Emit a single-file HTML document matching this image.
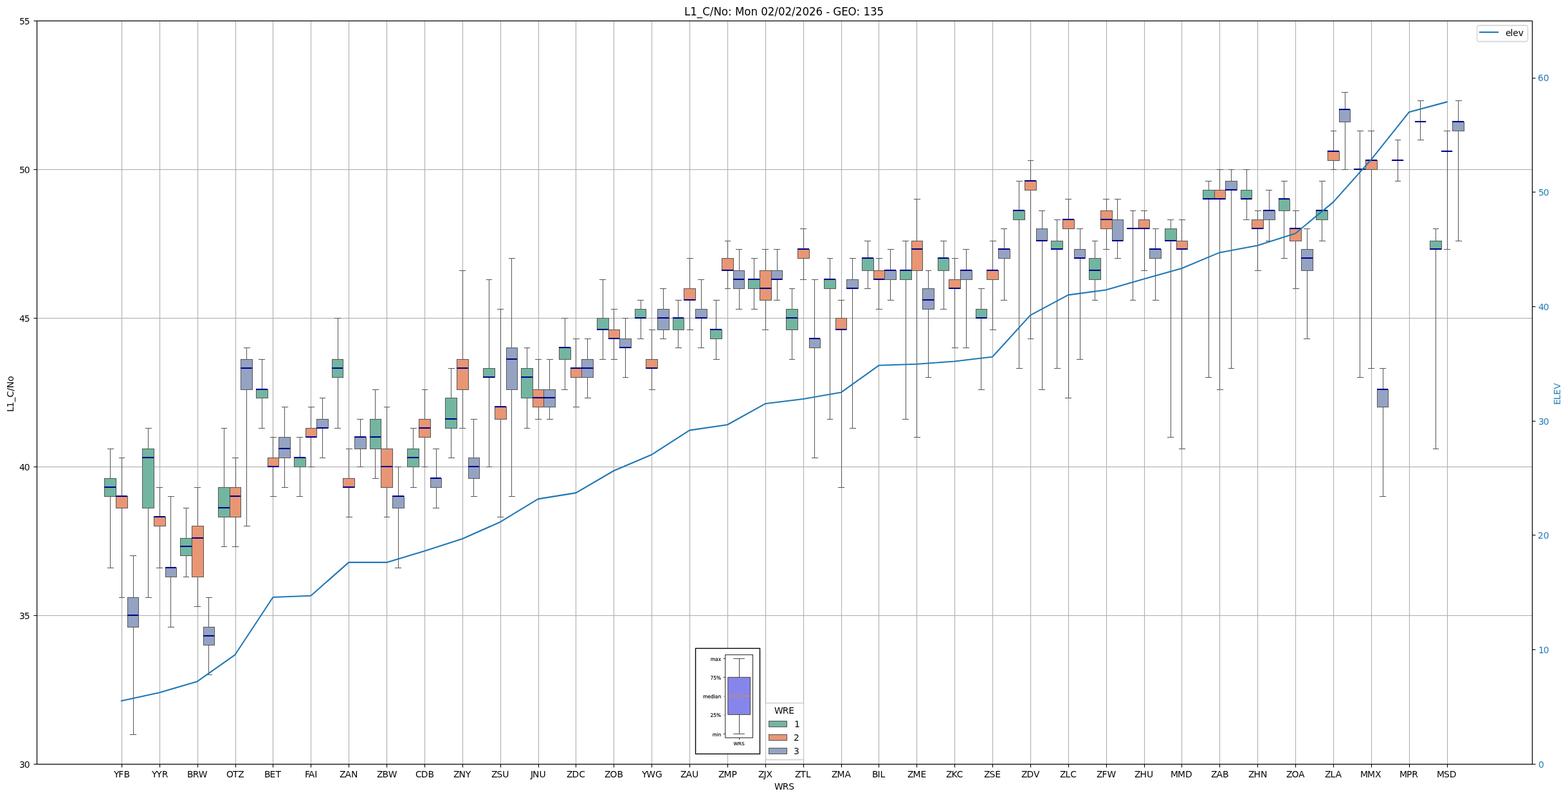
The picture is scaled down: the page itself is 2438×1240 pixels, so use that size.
<!DOCTYPE html>
<html lang="en">
<head>
<meta charset="utf-8">
<title>L1_C/No: Mon 02/02/2026 - GEO: 135</title>
<style>
html,body{margin:0;padding:0;background:#fff;}
body{width:2438px;height:1240px;overflow:hidden;}
svg{display:block;font-family:"DejaVu Sans", "Liberation Sans", sans-serif;font-size:13.889px;fill:#000;}
</style>
</head>
<body>
<svg width="2438" height="1240" viewBox="0 0 2438 1240">
<rect x="0" y="0" width="2438" height="1240" fill="#fff"/>
<path d="M189.5 32.5V1187.5M248.5 32.5V1187.5M307.5 32.5V1187.5M366.5 32.5V1187.5M424.5 32.5V1187.5M483.5 32.5V1187.5M542.5 32.5V1187.5M601.5 32.5V1187.5M660.5 32.5V1187.5M719.5 32.5V1187.5M778.5 32.5V1187.5M837.5 32.5V1187.5M895.5 32.5V1187.5M954.5 32.5V1187.5M1013.5 32.5V1187.5M1072.5 32.5V1187.5M1131.5 32.5V1187.5M1190.5 32.5V1187.5M1249.5 32.5V1187.5M1308.5 32.5V1187.5M1366.5 32.5V1187.5M1425.5 32.5V1187.5M1484.5 32.5V1187.5M1543.5 32.5V1187.5M1602.5 32.5V1187.5M1661.5 32.5V1187.5M1720.5 32.5V1187.5M1779.5 32.5V1187.5M1837.5 32.5V1187.5M1896.5 32.5V1187.5M1955.5 32.5V1187.5M2014.5 32.5V1187.5M2073.5 32.5V1187.5M2132.5 32.5V1187.5M2191.5 32.5V1187.5M2250.5 32.5V1187.5" fill="none" stroke="#b0b0b0" stroke-width="1.13"/>
<path d="M57.5 1187.5H2382.5M57.5 956.5H2382.5M57.5 725.5H2382.5M57.5 494.5H2382.5M57.5 263.5H2382.5M57.5 32.5H2382.5" fill="none" stroke="#b0b0b0" stroke-width="1.11"/>
<path d="M57.5 1187.5H2382.5M57.5 956.5H2382.5M57.5 725.5H2382.5M57.5 494.5H2382.5M57.5 263.5H2382.5M57.5 32.5H2382.5" fill="none" stroke="#b0b0b0" stroke-width="3" stroke-opacity="0.06"/>
<path d="M162.5 743.5H180.5V771.5H162.5ZM221.5 697.5H239.5V789.5H221.5ZM280.5 836.5H298.5V863.5H280.5ZM339.5 757.5H357.5V803.5H339.5ZM398.5 605.5H416.5V618.5H398.5ZM457.5 711.5H475.5V725.5H457.5ZM516.5 558.5H533.5V586.5H516.5ZM575.5 651.5H592.5V697.5H575.5ZM633.5 697.5H651.5V725.5H633.5ZM692.5 618.5H710.5V665.5H692.5ZM751.5 572.5H769.5V586.5H751.5ZM810.5 572.5H828.5V618.5H810.5ZM869.5 540.5H887.5V558.5H869.5ZM928.5 494.5H946.5V512.5H928.5ZM987.5 480.5H1004.5V494.5H987.5ZM1046.5 494.5H1063.5V512.5H1046.5ZM1104.5 512.5H1122.5V526.5H1104.5ZM1163.5 434.5H1181.5V448.5H1163.5ZM1222.5 480.5H1240.5V512.5H1222.5ZM1281.5 434.5H1299.5V448.5H1281.5ZM1340.5 401.5H1358.5V420.5H1340.5ZM1399.5 420.5H1417.5V434.5H1399.5ZM1458.5 401.5H1475.5V420.5H1458.5ZM1517.5 480.5H1534.5V494.5H1517.5ZM1575.5 327.5H1593.5V341.5H1575.5ZM1634.5 374.5H1652.5V387.5H1634.5ZM1693.5 401.5H1711.5V434.5H1693.5ZM1752.5 355.5H1770.5V355.5H1752.5ZM1811.5 355.5H1829.5V374.5H1811.5ZM1870.5 295.5H1888.5V309.5H1870.5ZM1929.5 295.5H1946.5V309.5H1929.5ZM1988.5 309.5H2005.5V327.5H1988.5ZM2046.5 327.5H2064.5V341.5H2046.5ZM2105.5 263.5H2123.5V263.5H2105.5ZM2164.5 249.5H2182.5V249.5H2164.5ZM2223.5 374.5H2241.5V387.5H2223.5Z" fill="#72b6a1" stroke="#595959" stroke-width="1.04" stroke-linejoin="miter"/>
<path d="M162 743.5H181M162 771.5H181M221 697.5H240M221 789.5H240M280 836.5H299M280 863.5H299M339 757.5H358M339 803.5H358M398 605.5H417M398 618.5H417M457 711.5H476M457 725.5H476M516 558.5H534M516 586.5H534M575 651.5H593M575 697.5H593M633 697.5H652M633 725.5H652M692 618.5H711M692 665.5H711M751 572.5H770M751 586.5H770M810 572.5H829M810 618.5H829M869 540.5H888M869 558.5H888M928 494.5H947M928 512.5H947M987 480.5H1005M987 494.5H1005M1046 494.5H1064M1046 512.5H1064M1104 512.5H1123M1104 526.5H1123M1163 434.5H1182M1163 448.5H1182M1222 480.5H1241M1222 512.5H1241M1281 434.5H1300M1281 448.5H1300M1340 401.5H1359M1340 420.5H1359M1399 420.5H1418M1399 434.5H1418M1458 401.5H1476M1458 420.5H1476M1517 480.5H1535M1517 494.5H1535M1575 327.5H1594M1575 341.5H1594M1634 374.5H1653M1634 387.5H1653M1693 401.5H1712M1693 434.5H1712M1752 355.5H1771M1752 355.5H1771M1811 355.5H1830M1811 374.5H1830M1870 295.5H1889M1870 309.5H1889M1929 295.5H1947M1929 309.5H1947M1988 309.5H2006M1988 327.5H2006M2046 327.5H2065M2046 341.5H2065M2105 263.5H2124M2105 263.5H2124M2164 249.5H2183M2164 249.5H2183M2223 374.5H2242M2223 387.5H2242" fill="none" stroke="#595959" stroke-width="3" stroke-opacity="0.024"/>
<path d="M180.5 771.5H198.5V789.5H180.5ZM239.5 803.5H257.5V817.5H239.5ZM298.5 817.5H316.5V896.5H298.5ZM357.5 757.5H374.5V803.5H357.5ZM416.5 711.5H433.5V725.5H416.5ZM475.5 665.5H492.5V679.5H475.5ZM533.5 743.5H551.5V757.5H533.5ZM592.5 697.5H610.5V757.5H592.5ZM651.5 651.5H669.5V679.5H651.5ZM710.5 558.5H728.5V605.5H710.5ZM769.5 632.5H787.5V651.5H769.5ZM828.5 605.5H845.5V632.5H828.5ZM887.5 572.5H904.5V586.5H887.5ZM946.5 512.5H963.5V526.5H946.5ZM1004.5 558.5H1022.5V572.5H1004.5ZM1063.5 448.5H1081.5V466.5H1063.5ZM1122.5 401.5H1140.5V420.5H1122.5ZM1181.5 420.5H1199.5V466.5H1181.5ZM1240.5 387.5H1258.5V401.5H1240.5ZM1299.5 494.5H1316.5V512.5H1299.5ZM1358.5 420.5H1375.5V434.5H1358.5ZM1417.5 374.5H1434.5V420.5H1417.5ZM1475.5 434.5H1493.5V448.5H1475.5ZM1534.5 420.5H1552.5V434.5H1534.5ZM1593.5 281.5H1611.5V295.5H1593.5ZM1652.5 341.5H1670.5V355.5H1652.5ZM1711.5 327.5H1729.5V355.5H1711.5ZM1770.5 341.5H1787.5V355.5H1770.5ZM1829.5 374.5H1846.5V387.5H1829.5ZM1888.5 295.5H1905.5V309.5H1888.5ZM1946.5 341.5H1964.5V355.5H1946.5ZM2005.5 355.5H2023.5V374.5H2005.5ZM2064.5 235.5H2082.5V249.5H2064.5ZM2123.5 249.5H2141.5V263.5H2123.5ZM2241.5 235.5H2258.5V235.5H2241.5Z" fill="#e99675" stroke="#595959" stroke-width="1.04" stroke-linejoin="miter"/>
<path d="M180 771.5H199M180 789.5H199M239 803.5H258M239 817.5H258M298 817.5H317M298 896.5H317M357 757.5H375M357 803.5H375M416 711.5H434M416 725.5H434M475 665.5H493M475 679.5H493M533 743.5H552M533 757.5H552M592 697.5H611M592 757.5H611M651 651.5H670M651 679.5H670M710 558.5H729M710 605.5H729M769 632.5H788M769 651.5H788M828 605.5H846M828 632.5H846M887 572.5H905M887 586.5H905M946 512.5H964M946 526.5H964M1004 558.5H1023M1004 572.5H1023M1063 448.5H1082M1063 466.5H1082M1122 401.5H1141M1122 420.5H1141M1181 420.5H1200M1181 466.5H1200M1240 387.5H1259M1240 401.5H1259M1299 494.5H1317M1299 512.5H1317M1358 420.5H1376M1358 434.5H1376M1417 374.5H1435M1417 420.5H1435M1475 434.5H1494M1475 448.5H1494M1534 420.5H1553M1534 434.5H1553M1593 281.5H1612M1593 295.5H1612M1652 341.5H1671M1652 355.5H1671M1711 327.5H1730M1711 355.5H1730M1770 341.5H1788M1770 355.5H1788M1829 374.5H1847M1829 387.5H1847M1888 295.5H1906M1888 309.5H1906M1946 341.5H1965M1946 355.5H1965M2005 355.5H2024M2005 374.5H2024M2064 235.5H2083M2064 249.5H2083M2123 249.5H2142M2123 263.5H2142M2241 235.5H2259M2241 235.5H2259" fill="none" stroke="#595959" stroke-width="3" stroke-opacity="0.024"/>
<path d="M198.5 928.5H215.5V974.5H198.5ZM257.5 882.5H274.5V896.5H257.5ZM316.5 974.5H333.5V1002.5H316.5ZM374.5 558.5H392.5V605.5H374.5ZM433.5 679.5H451.5V711.5H433.5ZM492.5 651.5H510.5V665.5H492.5ZM551.5 679.5H569.5V697.5H551.5ZM610.5 771.5H628.5V789.5H610.5ZM669.5 743.5H686.5V757.5H669.5ZM728.5 711.5H745.5V743.5H728.5ZM787.5 540.5H804.5V605.5H787.5ZM845.5 605.5H863.5V632.5H845.5ZM904.5 558.5H922.5V586.5H904.5ZM963.5 526.5H981.5V540.5H963.5ZM1022.5 480.5H1040.5V512.5H1022.5ZM1081.5 480.5H1099.5V494.5H1081.5ZM1140.5 420.5H1157.5V448.5H1140.5ZM1199.5 420.5H1216.5V434.5H1199.5ZM1258.5 526.5H1275.5V540.5H1258.5ZM1316.5 434.5H1334.5V448.5H1316.5ZM1375.5 420.5H1393.5V434.5H1375.5ZM1434.5 448.5H1452.5V480.5H1434.5ZM1493.5 420.5H1511.5V434.5H1493.5ZM1552.5 387.5H1570.5V401.5H1552.5ZM1611.5 355.5H1628.5V374.5H1611.5ZM1670.5 387.5H1687.5V401.5H1670.5ZM1729.5 341.5H1746.5V374.5H1729.5ZM1787.5 387.5H1805.5V401.5H1787.5ZM1905.5 281.5H1923.5V295.5H1905.5ZM1964.5 327.5H1982.5V341.5H1964.5ZM2023.5 387.5H2041.5V420.5H2023.5ZM2082.5 170.5H2099.5V189.5H2082.5ZM2141.5 605.5H2158.5V632.5H2141.5ZM2200.5 189.5H2217.5V189.5H2200.5ZM2258.5 189.5H2276.5V203.5H2258.5Z" fill="#95a3c3" stroke="#595959" stroke-width="1.04" stroke-linejoin="miter"/>
<path d="M198 928.5H216M198 974.5H216M257 882.5H275M257 896.5H275M316 974.5H334M316 1002.5H334M374 558.5H393M374 605.5H393M433 679.5H452M433 711.5H452M492 651.5H511M492 665.5H511M551 679.5H570M551 697.5H570M610 771.5H629M610 789.5H629M669 743.5H687M669 757.5H687M728 711.5H746M728 743.5H746M787 540.5H805M787 605.5H805M845 605.5H864M845 632.5H864M904 558.5H923M904 586.5H923M963 526.5H982M963 540.5H982M1022 480.5H1041M1022 512.5H1041M1081 480.5H1100M1081 494.5H1100M1140 420.5H1158M1140 448.5H1158M1199 420.5H1217M1199 434.5H1217M1258 526.5H1276M1258 540.5H1276M1316 434.5H1335M1316 448.5H1335M1375 420.5H1394M1375 434.5H1394M1434 448.5H1453M1434 480.5H1453M1493 420.5H1512M1493 434.5H1512M1552 387.5H1571M1552 401.5H1571M1611 355.5H1629M1611 374.5H1629M1670 387.5H1688M1670 401.5H1688M1729 341.5H1747M1729 374.5H1747M1787 387.5H1806M1787 401.5H1806M1905 281.5H1924M1905 295.5H1924M1964 327.5H1983M1964 341.5H1983M2023 387.5H2042M2023 420.5H2042M2082 170.5H2100M2082 189.5H2100M2141 605.5H2159M2141 632.5H2159M2200 189.5H2218M2200 189.5H2218M2258 189.5H2277M2258 203.5H2277" fill="none" stroke="#595959" stroke-width="3" stroke-opacity="0.024"/>
<path d="M171.5 743.5V697.5M171.5 771.5V882.5M189.5 771.5V711.5M189.5 789.5V928.5M207.5 928.5V863.5M207.5 974.5V1141.5M230.5 697.5V665.5M230.5 789.5V928.5M248.5 803.5V757.5M248.5 817.5V882.5M265.5 882.5V771.5M265.5 896.5V974.5M289.5 836.5V789.5M289.5 863.5V896.5M307.5 817.5V757.5M307.5 896.5V942.5M324.5 974.5V928.5M324.5 1002.5V1048.5M348.5 757.5V665.5M348.5 803.5V849.5M366.5 757.5V711.5M366.5 803.5V849.5M383.5 558.5V540.5M383.5 605.5V817.5M407.5 605.5V558.5M407.5 618.5V665.5M424.5 711.5V679.5M424.5 725.5V771.5M442.5 679.5V632.5M442.5 711.5V757.5M466.5 711.5V679.5M466.5 725.5V771.5M483.5 665.5V632.5M483.5 679.5V725.5M501.5 651.5V618.5M501.5 665.5V711.5M525.5 558.5V494.5M525.5 586.5V665.5M542.5 743.5V697.5M542.5 757.5V803.5M560.5 679.5V651.5M560.5 697.5V725.5M583.5 651.5V605.5M583.5 697.5V743.5M601.5 697.5V632.5M601.5 757.5V803.5M619.5 771.5V725.5M619.5 789.5V882.5M642.5 697.5V665.5M642.5 725.5V757.5M660.5 651.5V605.5M660.5 679.5V725.5M678.5 743.5V697.5M678.5 757.5V789.5M701.5 618.5V572.5M701.5 665.5V711.5M719.5 558.5V420.5M719.5 605.5V665.5M736.5 711.5V651.5M736.5 743.5V771.5M760.5 572.5V434.5M760.5 586.5V725.5M778.5 632.5V480.5M778.5 651.5V803.5M795.5 540.5V401.5M795.5 605.5V771.5M819.5 572.5V540.5M819.5 618.5V665.5M837.5 605.5V558.5M837.5 632.5V651.5M854.5 605.5V558.5M854.5 632.5V651.5M878.5 540.5V494.5M878.5 558.5V605.5M895.5 572.5V526.5M895.5 586.5V632.5M913.5 558.5V526.5M913.5 586.5V618.5M937.5 494.5V434.5M937.5 512.5V558.5M954.5 512.5V480.5M954.5 526.5V558.5M972.5 526.5V494.5M972.5 540.5V586.5M996.5 480.5V466.5M996.5 494.5V526.5M1013.5 558.5V512.5M1013.5 572.5V605.5M1031.5 480.5V448.5M1031.5 512.5V526.5M1054.5 494.5V466.5M1054.5 512.5V540.5M1072.5 448.5V401.5M1072.5 466.5V512.5M1090.5 480.5V434.5M1090.5 494.5V540.5M1113.5 512.5V466.5M1113.5 526.5V558.5M1131.5 401.5V374.5M1131.5 420.5V448.5M1149.5 420.5V387.5M1149.5 448.5V480.5M1172.5 434.5V401.5M1172.5 448.5V480.5M1190.5 420.5V387.5M1190.5 466.5V512.5M1208.5 420.5V387.5M1208.5 434.5V466.5M1231.5 480.5V448.5M1231.5 512.5V558.5M1249.5 387.5V355.5M1249.5 401.5V434.5M1266.5 526.5V434.5M1266.5 540.5V711.5M1290.5 434.5V401.5M1290.5 448.5V651.5M1308.5 494.5V466.5M1308.5 512.5V757.5M1325.5 434.5V401.5M1325.5 448.5V665.5M1349.5 401.5V374.5M1349.5 420.5V448.5M1366.5 420.5V401.5M1366.5 434.5V480.5M1384.5 420.5V387.5M1384.5 434.5V466.5M1408.5 420.5V374.5M1408.5 434.5V651.5M1425.5 374.5V309.5M1425.5 420.5V679.5M1443.5 448.5V420.5M1443.5 480.5V586.5M1467.5 401.5V374.5M1467.5 420.5V480.5M1484.5 434.5V401.5M1484.5 448.5V540.5M1502.5 420.5V387.5M1502.5 434.5V540.5M1525.5 480.5V448.5M1525.5 494.5V605.5M1543.5 420.5V374.5M1543.5 434.5V512.5M1561.5 387.5V355.5M1561.5 401.5V466.5M1584.5 327.5V281.5M1584.5 341.5V572.5M1602.5 281.5V249.5M1602.5 295.5V526.5M1620.5 355.5V327.5M1620.5 374.5V605.5M1643.5 374.5V341.5M1643.5 387.5V572.5M1661.5 341.5V309.5M1661.5 355.5V618.5M1679.5 387.5V355.5M1679.5 401.5V558.5M1702.5 401.5V374.5M1702.5 434.5V466.5M1720.5 327.5V309.5M1720.5 355.5V387.5M1737.5 341.5V309.5M1737.5 374.5V401.5M1761.5 355.5V327.5M1761.5 355.5V466.5M1779.5 341.5V327.5M1779.5 355.5V420.5M1796.5 387.5V355.5M1796.5 401.5V466.5M1820.5 355.5V341.5M1820.5 374.5V679.5M1837.5 374.5V341.5M1837.5 387.5V697.5M1879.5 295.5V281.5M1879.5 309.5V586.5M1896.5 295.5V263.5M1896.5 309.5V605.5M1914.5 281.5V263.5M1914.5 295.5V572.5M1938.5 295.5V263.5M1938.5 309.5V341.5M1955.5 341.5V327.5M1955.5 355.5V420.5M1973.5 327.5V295.5M1973.5 341.5V374.5M1996.5 309.5V281.5M1996.5 327.5V401.5M2014.5 355.5V327.5M2014.5 374.5V448.5M2032.5 387.5V355.5M2032.5 420.5V526.5M2055.5 327.5V281.5M2055.5 341.5V374.5M2073.5 235.5V203.5M2073.5 249.5V263.5M2091.5 170.5V143.5M2091.5 189.5V263.5M2114.5 263.5V203.5M2114.5 263.5V586.5M2132.5 249.5V203.5M2132.5 263.5V572.5M2150.5 605.5V572.5M2150.5 632.5V771.5M2173.5 249.5V217.5M2173.5 249.5V281.5M2208.5 189.5V156.5M2208.5 189.5V217.5M2232.5 374.5V355.5M2232.5 387.5V697.5M2250.5 235.5V203.5M2250.5 235.5V387.5M2267.5 189.5V156.5M2267.5 203.5V374.5" fill="none" stroke="#595959" stroke-width="1.04" stroke-linecap="square"/>
<path d="M167.5 697.5H176.5M167.5 882.5H176.5M185.5 711.5H193.5M185.5 928.5H193.5M202.5 863.5H211.5M202.5 1141.5H211.5M226.5 665.5H235.5M226.5 928.5H235.5M243.5 757.5H252.5M243.5 882.5H252.5M261.5 771.5H270.5M261.5 974.5H270.5M285.5 789.5H293.5M285.5 896.5H293.5M302.5 757.5H311.5M302.5 942.5H311.5M320.5 928.5H329.5M320.5 1048.5H329.5M344.5 665.5H352.5M344.5 849.5H352.5M361.5 711.5H370.5M361.5 849.5H370.5M379.5 540.5H388.5M379.5 817.5H388.5M402.5 558.5H411.5M402.5 665.5H411.5M420.5 679.5H429.5M420.5 771.5H429.5M438.5 632.5H447.5M438.5 757.5H447.5M461.5 679.5H470.5M461.5 771.5H470.5M479.5 632.5H488.5M479.5 725.5H488.5M497.5 618.5H505.5M497.5 711.5H505.5M520.5 494.5H529.5M520.5 665.5H529.5M538.5 697.5H547.5M538.5 803.5H547.5M555.5 651.5H564.5M555.5 725.5H564.5M579.5 605.5H588.5M579.5 743.5H588.5M597.5 632.5H605.5M597.5 803.5H605.5M614.5 725.5H623.5M614.5 882.5H623.5M638.5 665.5H647.5M638.5 757.5H647.5M656.5 605.5H664.5M656.5 725.5H664.5M673.5 697.5H682.5M673.5 789.5H682.5M697.5 572.5H706.5M697.5 711.5H706.5M714.5 420.5H723.5M714.5 665.5H723.5M732.5 651.5H741.5M732.5 771.5H741.5M756.5 434.5H764.5M756.5 725.5H764.5M773.5 480.5H782.5M773.5 803.5H782.5M791.5 401.5H800.5M791.5 771.5H800.5M815.5 540.5H823.5M815.5 665.5H823.5M832.5 558.5H841.5M832.5 651.5H841.5M850.5 558.5H859.5M850.5 651.5H859.5M873.5 494.5H882.5M873.5 605.5H882.5M891.5 526.5H900.5M891.5 632.5H900.5M909.5 526.5H918.5M909.5 618.5H918.5M932.5 434.5H941.5M932.5 558.5H941.5M950.5 480.5H959.5M950.5 558.5H959.5M968.5 494.5H976.5M968.5 586.5H976.5M991.5 466.5H1000.5M991.5 526.5H1000.5M1009.5 512.5H1018.5M1009.5 605.5H1018.5M1026.5 448.5H1035.5M1026.5 526.5H1035.5M1050.5 466.5H1059.5M1050.5 540.5H1059.5M1068.5 401.5H1077.5M1068.5 512.5H1077.5M1085.5 434.5H1094.5M1085.5 540.5H1094.5M1109.5 466.5H1118.5M1109.5 558.5H1118.5M1127.5 374.5H1135.5M1127.5 448.5H1135.5M1144.5 387.5H1153.5M1144.5 480.5H1153.5M1168.5 401.5H1177.5M1168.5 480.5H1177.5M1185.5 387.5H1194.5M1185.5 512.5H1194.5M1203.5 387.5H1212.5M1203.5 466.5H1212.5M1227.5 448.5H1235.5M1227.5 558.5H1235.5M1244.5 355.5H1253.5M1244.5 434.5H1253.5M1262.5 434.5H1271.5M1262.5 711.5H1271.5M1286.5 401.5H1294.5M1286.5 651.5H1294.5M1303.5 466.5H1312.5M1303.5 757.5H1312.5M1321.5 401.5H1330.5M1321.5 665.5H1330.5M1344.5 374.5H1353.5M1344.5 448.5H1353.5M1362.5 401.5H1371.5M1362.5 480.5H1371.5M1380.5 387.5H1389.5M1380.5 466.5H1389.5M1403.5 374.5H1412.5M1403.5 651.5H1412.5M1421.5 309.5H1430.5M1421.5 679.5H1430.5M1439.5 420.5H1447.5M1439.5 586.5H1447.5M1462.5 374.5H1471.5M1462.5 480.5H1471.5M1480.5 401.5H1489.5M1480.5 540.5H1489.5M1497.5 387.5H1506.5M1497.5 540.5H1506.5M1521.5 448.5H1530.5M1521.5 605.5H1530.5M1539.5 374.5H1548.5M1539.5 512.5H1548.5M1556.5 355.5H1565.5M1556.5 466.5H1565.5M1580.5 281.5H1589.5M1580.5 572.5H1589.5M1598.5 249.5H1606.5M1598.5 526.5H1606.5M1615.5 327.5H1624.5M1615.5 605.5H1624.5M1639.5 341.5H1648.5M1639.5 572.5H1648.5M1656.5 309.5H1665.5M1656.5 618.5H1665.5M1674.5 355.5H1683.5M1674.5 558.5H1683.5M1698.5 374.5H1706.5M1698.5 466.5H1706.5M1715.5 309.5H1724.5M1715.5 387.5H1724.5M1733.5 309.5H1742.5M1733.5 401.5H1742.5M1757.5 327.5H1765.5M1757.5 466.5H1765.5M1774.5 327.5H1783.5M1774.5 420.5H1783.5M1792.5 355.5H1801.5M1792.5 466.5H1801.5M1815.5 341.5H1824.5M1815.5 679.5H1824.5M1833.5 341.5H1842.5M1833.5 697.5H1842.5M1874.5 281.5H1883.5M1874.5 586.5H1883.5M1892.5 263.5H1901.5M1892.5 605.5H1901.5M1910.5 263.5H1918.5M1910.5 572.5H1918.5M1933.5 263.5H1942.5M1933.5 341.5H1942.5M1951.5 327.5H1960.5M1951.5 420.5H1960.5M1968.5 295.5H1977.5M1968.5 374.5H1977.5M1992.5 281.5H2001.5M1992.5 401.5H2001.5M2010.5 327.5H2019.5M2010.5 448.5H2019.5M2027.5 355.5H2036.5M2027.5 526.5H2036.5M2051.5 281.5H2060.5M2051.5 374.5H2060.5M2069.5 203.5H2077.5M2069.5 263.5H2077.5M2086.5 143.5H2095.5M2086.5 263.5H2095.5M2110.5 203.5H2119.5M2110.5 586.5H2119.5M2127.5 203.5H2136.5M2127.5 572.5H2136.5M2145.5 572.5H2154.5M2145.5 771.5H2154.5M2169.5 217.5H2177.5M2169.5 281.5H2177.5M2204.5 156.5H2213.5M2204.5 217.5H2213.5M2228.5 355.5H2236.5M2228.5 697.5H2236.5M2245.5 203.5H2254.5M2245.5 387.5H2254.5M2263.5 156.5H2272.5M2263.5 374.5H2272.5" fill="none" stroke="#595959" stroke-width="1.04" stroke-linecap="square"/>
<path d="M167.5 697.5H176.5M167.5 882.5H176.5M185.5 711.5H193.5M185.5 928.5H193.5M202.5 863.5H211.5M202.5 1141.5H211.5M226.5 665.5H235.5M226.5 928.5H235.5M243.5 757.5H252.5M243.5 882.5H252.5M261.5 771.5H270.5M261.5 974.5H270.5M285.5 789.5H293.5M285.5 896.5H293.5M302.5 757.5H311.5M302.5 942.5H311.5M320.5 928.5H329.5M320.5 1048.5H329.5M344.5 665.5H352.5M344.5 849.5H352.5M361.5 711.5H370.5M361.5 849.5H370.5M379.5 540.5H388.5M379.5 817.5H388.5M402.5 558.5H411.5M402.5 665.5H411.5M420.5 679.5H429.5M420.5 771.5H429.5M438.5 632.5H447.5M438.5 757.5H447.5M461.5 679.5H470.5M461.5 771.5H470.5M479.5 632.5H488.5M479.5 725.5H488.5M497.5 618.5H505.5M497.5 711.5H505.5M520.5 494.5H529.5M520.5 665.5H529.5M538.5 697.5H547.5M538.5 803.5H547.5M555.5 651.5H564.5M555.5 725.5H564.5M579.5 605.5H588.5M579.5 743.5H588.5M597.5 632.5H605.5M597.5 803.5H605.5M614.5 725.5H623.5M614.5 882.5H623.5M638.5 665.5H647.5M638.5 757.5H647.5M656.5 605.5H664.5M656.5 725.5H664.5M673.5 697.5H682.5M673.5 789.5H682.5M697.5 572.5H706.5M697.5 711.5H706.5M714.5 420.5H723.5M714.5 665.5H723.5M732.5 651.5H741.5M732.5 771.5H741.5M756.5 434.5H764.5M756.5 725.5H764.5M773.5 480.5H782.5M773.5 803.5H782.5M791.5 401.5H800.5M791.5 771.5H800.5M815.5 540.5H823.5M815.5 665.5H823.5M832.5 558.5H841.5M832.5 651.5H841.5M850.5 558.5H859.5M850.5 651.5H859.5M873.5 494.5H882.5M873.5 605.5H882.5M891.5 526.5H900.5M891.5 632.5H900.5M909.5 526.5H918.5M909.5 618.5H918.5M932.5 434.5H941.5M932.5 558.5H941.5M950.5 480.5H959.5M950.5 558.5H959.5M968.5 494.5H976.5M968.5 586.5H976.5M991.5 466.5H1000.5M991.5 526.5H1000.5M1009.5 512.5H1018.5M1009.5 605.5H1018.5M1026.5 448.5H1035.5M1026.5 526.5H1035.5M1050.5 466.5H1059.5M1050.5 540.5H1059.5M1068.5 401.5H1077.5M1068.5 512.5H1077.5M1085.5 434.5H1094.5M1085.5 540.5H1094.5M1109.5 466.5H1118.5M1109.5 558.5H1118.5M1127.5 374.5H1135.5M1127.5 448.5H1135.5M1144.5 387.5H1153.5M1144.5 480.5H1153.5M1168.5 401.5H1177.5M1168.5 480.5H1177.5M1185.5 387.5H1194.5M1185.5 512.5H1194.5M1203.5 387.5H1212.5M1203.5 466.5H1212.5M1227.5 448.5H1235.5M1227.5 558.5H1235.5M1244.5 355.5H1253.5M1244.5 434.5H1253.5M1262.5 434.5H1271.5M1262.5 711.5H1271.5M1286.5 401.5H1294.5M1286.5 651.5H1294.5M1303.5 466.5H1312.5M1303.5 757.5H1312.5M1321.5 401.5H1330.5M1321.5 665.5H1330.5M1344.5 374.5H1353.5M1344.5 448.5H1353.5M1362.5 401.5H1371.5M1362.5 480.5H1371.5M1380.5 387.5H1389.5M1380.5 466.5H1389.5M1403.5 374.5H1412.5M1403.5 651.5H1412.5M1421.5 309.5H1430.5M1421.5 679.5H1430.5M1439.5 420.5H1447.5M1439.5 586.5H1447.5M1462.5 374.5H1471.5M1462.5 480.5H1471.5M1480.5 401.5H1489.5M1480.5 540.5H1489.5M1497.5 387.5H1506.5M1497.5 540.5H1506.5M1521.5 448.5H1530.5M1521.5 605.5H1530.5M1539.5 374.5H1548.5M1539.5 512.5H1548.5M1556.5 355.5H1565.5M1556.5 466.5H1565.5M1580.5 281.5H1589.5M1580.5 572.5H1589.5M1598.5 249.5H1606.5M1598.5 526.5H1606.5M1615.5 327.5H1624.5M1615.5 605.5H1624.5M1639.5 341.5H1648.5M1639.5 572.5H1648.5M1656.5 309.5H1665.5M1656.5 618.5H1665.5M1674.5 355.5H1683.5M1674.5 558.5H1683.5M1698.5 374.5H1706.5M1698.5 466.5H1706.5M1715.5 309.5H1724.5M1715.5 387.5H1724.5M1733.5 309.5H1742.5M1733.5 401.5H1742.5M1757.5 327.5H1765.5M1757.5 466.5H1765.5M1774.5 327.5H1783.5M1774.5 420.5H1783.5M1792.5 355.5H1801.5M1792.5 466.5H1801.5M1815.5 341.5H1824.5M1815.5 679.5H1824.5M1833.5 341.5H1842.5M1833.5 697.5H1842.5M1874.5 281.5H1883.5M1874.5 586.5H1883.5M1892.5 263.5H1901.5M1892.5 605.5H1901.5M1910.5 263.5H1918.5M1910.5 572.5H1918.5M1933.5 263.5H1942.5M1933.5 341.5H1942.5M1951.5 327.5H1960.5M1951.5 420.5H1960.5M1968.5 295.5H1977.5M1968.5 374.5H1977.5M1992.5 281.5H2001.5M1992.5 401.5H2001.5M2010.5 327.5H2019.5M2010.5 448.5H2019.5M2027.5 355.5H2036.5M2027.5 526.5H2036.5M2051.5 281.5H2060.5M2051.5 374.5H2060.5M2069.5 203.5H2077.5M2069.5 263.5H2077.5M2086.5 143.5H2095.5M2086.5 263.5H2095.5M2110.5 203.5H2119.5M2110.5 586.5H2119.5M2127.5 203.5H2136.5M2127.5 572.5H2136.5M2145.5 572.5H2154.5M2145.5 771.5H2154.5M2169.5 217.5H2177.5M2169.5 281.5H2177.5M2204.5 156.5H2213.5M2204.5 217.5H2213.5M2228.5 355.5H2236.5M2228.5 697.5H2236.5M2245.5 203.5H2254.5M2245.5 387.5H2254.5M2263.5 156.5H2272.5M2263.5 374.5H2272.5" fill="none" stroke="#595959" stroke-width="3" stroke-opacity="0.024" stroke-linecap="square"/>
<path d="M162 757H180M180 771H198M198 956H215M221 711H239M239 803H257M257 882H274M280 849H298M298 836H316M316 988H333M339 789H357M357 771H374M374 572H392M398 605H416M416 725H433M433 697H451M457 711H475M475 679H492M492 665H510M516 572H533M533 757H551M551 679H569M575 679H592M592 725H610M610 771H628M633 711H651M651 665H669M669 743H686M692 651H710M710 572H728M728 725H745M751 586H769M769 632H787M787 558H804M810 586H828M828 618H845M845 618H863M869 540H887M887 572H904M904 572H922M928 512H946M946 526H963M963 540H981M987 494H1004M1004 572H1022M1022 494H1040M1046 494H1063M1063 466H1081M1081 494H1099M1104 512H1122M1122 420H1140M1140 434H1157M1163 434H1181M1181 448H1199M1199 434H1216M1222 494H1240M1240 387H1258M1258 526H1275M1281 434H1299M1299 512H1316M1316 448H1334M1340 401H1358M1358 434H1375M1375 420H1393M1399 420H1417M1417 387H1434M1434 466H1452M1458 401H1475M1475 448H1493M1493 420H1511M1517 494H1534M1534 420H1552M1552 387H1570M1575 327H1593M1593 281H1611M1611 374H1628M1634 387H1652M1652 341H1670M1670 401H1687M1693 420H1711M1711 341H1729M1729 374H1746M1752 355H1770M1770 355H1787M1787 387H1805M1811 374H1829M1829 387H1846M1870 309H1888M1888 309H1905M1905 295H1923M1929 309H1946M1946 355H1964M1964 327H1982M1988 309H2005M2005 355H2023M2023 401H2041M2046 327H2064M2064 235H2082M2082 170H2099M2105 263H2123M2123 249H2141M2141 605H2158M2164 249H2182M2200 189H2217M2223 387H2241M2241 235H2258M2258 189H2276" fill="none" stroke="#00008b" stroke-width="2.08"/>
<path d="M162 757H180M180 771H198M198 956H215M221 711H239M239 803H257M257 882H274M280 849H298M298 836H316M316 988H333M339 789H357M357 771H374M374 572H392M398 605H416M416 725H433M433 697H451M457 711H475M475 679H492M492 665H510M516 572H533M533 757H551M551 679H569M575 679H592M592 725H610M610 771H628M633 711H651M651 665H669M669 743H686M692 651H710M710 572H728M728 725H745M751 586H769M769 632H787M787 558H804M810 586H828M828 618H845M845 618H863M869 540H887M887 572H904M904 572H922M928 512H946M946 526H963M963 540H981M987 494H1004M1004 572H1022M1022 494H1040M1046 494H1063M1063 466H1081M1081 494H1099M1104 512H1122M1122 420H1140M1140 434H1157M1163 434H1181M1181 448H1199M1199 434H1216M1222 494H1240M1240 387H1258M1258 526H1275M1281 434H1299M1299 512H1316M1316 448H1334M1340 401H1358M1358 434H1375M1375 420H1393M1399 420H1417M1417 387H1434M1434 466H1452M1458 401H1475M1475 448H1493M1493 420H1511M1517 494H1534M1534 420H1552M1552 387H1570M1575 327H1593M1593 281H1611M1611 374H1628M1634 387H1652M1652 341H1670M1670 401H1687M1693 420H1711M1711 341H1729M1729 374H1746M1752 355H1770M1770 355H1787M1787 387H1805M1811 374H1829M1829 387H1846M1870 309H1888M1888 309H1905M1905 295H1923M1929 309H1946M1946 355H1964M1964 327H1982M1988 309H2005M2005 355H2023M2023 401H2041M2046 327H2064M2064 235H2082M2082 170H2099M2105 263H2123M2123 249H2141M2141 605H2158M2164 249H2182M2200 189H2217M2223 387H2241M2241 235H2258M2258 189H2276" fill="none" stroke="#00008b" stroke-width="4" stroke-opacity="0.042"/>
<g id="inset">
<rect x="1081.5" y="1007.5" width="100" height="164" fill="#fff" stroke="#000" stroke-width="1.39"/>
<rect x="1127.7" y="1017.5" width="42.8" height="128.9" fill="#fff" stroke="#111" stroke-width="0.9"/>
<path d="M1149.5 1023.4V1052.4M1149.5 1110.4V1140.4M1140.3 1023.4H1157.8M1140.3 1140.4H1157.8" fill="none" stroke="#444" stroke-width="1"/>
<rect x="1131.8" y="1052.4" width="34.7" height="58" fill="#8686ea" stroke="#444" stroke-width="1"/>
<path d="M1131.4 1081.5H1166.9" stroke="#ff7f0e" stroke-width="1.1" fill="none"/>
<path d="M1124.8 1023.4H1127.7M1124.8 1052.4H1127.7M1124.8 1140.4H1127.7M1149.5 1146.4V1149.2" stroke="#111" stroke-width="0.9" fill="none"/>
<path d="M1124.8 1082.4H1127.7M1124.8 1111.3H1127.7" stroke="#000" stroke-opacity="0.2" stroke-width="1.8" fill="none"/>
<text transform="translate(1121.2,1026.75) scale(1,1.04)" text-anchor="end" font-size="7.55" fill="#000" stroke="#000" stroke-width="0.28" stroke-opacity="0.55">max</text>
<text transform="translate(1121.2,1055.75) scale(1,1.04)" text-anchor="end" font-size="7.55" fill="#000" stroke="#000" stroke-width="0.28" stroke-opacity="0.55">75%</text>
<text transform="translate(1121.2,1084.85) scale(1,1.04)" text-anchor="end" font-size="7.55" fill="#000" stroke="#000" stroke-width="0.28" stroke-opacity="0.55">median</text>
<text transform="translate(1121.2,1113.75) scale(1,1.04)" text-anchor="end" font-size="7.55" fill="#000" stroke="#000" stroke-width="0.28" stroke-opacity="0.55">25%</text>
<text transform="translate(1121.2,1143.75) scale(1,1.04)" text-anchor="end" font-size="7.15" fill="#000" stroke="#000" stroke-width="0.28" stroke-opacity="0.55">min</text>
<text transform="translate(1149.05,1158.1) scale(1,0.93)" text-anchor="middle" font-size="7.4" fill="#000" stroke="#000" stroke-width="0.28" stroke-opacity="0.55">WRS</text>
</g>
<g id="wre">
<rect x="1190.5" y="1092.5" width="59" height="88" rx="2.8" ry="2.8" fill="#fff" fill-opacity="0.8" stroke="#ccc" stroke-opacity="0.8" stroke-width="1.39"/>
<path d="M1193.5 1092.5H1246.5M1193.5 1180.5H1246.5" fill="none" stroke="#ccc" stroke-width="3" stroke-opacity="0.156"/>
<rect x="1195.5" y="1120.5" width="28" height="9" fill="#72b6a1" stroke="#595959" stroke-width="1.04"/>
<path d="M1195 1120.5H1224M1195 1129.5H1224" fill="none" stroke="#595959" stroke-width="3" stroke-opacity="0.024"/>
<rect x="1195.5" y="1141.5" width="28" height="9" fill="#e99675" stroke="#595959" stroke-width="1.04"/>
<path d="M1195 1141.5H1224M1195 1150.5H1224" fill="none" stroke="#595959" stroke-width="3" stroke-opacity="0.024"/>
<rect x="1195.5" y="1162.5" width="28" height="9" fill="#95a3c3" stroke="#595959" stroke-width="1.04"/>
<path d="M1195 1162.5H1224M1195 1171.5H1224" fill="none" stroke="#595959" stroke-width="3" stroke-opacity="0.024"/>
</g>
<polyline points="188.96,1089 247.83,1076.2 306.71,1058.9 365.58,1017.3 424.46,928 483.33,925.7 542.21,873.9 601.08,873.9 659.96,856.3 718.83,837.2 777.71,811.2 836.59,775.4 895.46,765.9 954.34,731.5 1013.21,706.5 1072.09,668.65 1130.96,660 1189.84,627.3 1248.71,620 1307.59,609.8 1366.46,567.8 1425.34,565.7 1484.22,561.5 1543.09,554.5 1601.97,489.9 1660.84,458.4 1719.72,450.5 1778.59,433.4 1837.47,417 1896.34,392.4 1955.22,381.5 2014.1,362.7 2072.97,314.1 2131.85,248.1 2190.72,174.3 2249.6,158.4" fill="none" stroke="#1f77b4" stroke-width="2.08" stroke-linejoin="round" stroke-linecap="square"/>
<path d="M189.5 1187.5V1192.5M248.5 1187.5V1192.5M307.5 1187.5V1192.5M366.5 1187.5V1192.5M424.5 1187.5V1192.5M483.5 1187.5V1192.5M542.5 1187.5V1192.5M601.5 1187.5V1192.5M660.5 1187.5V1192.5M719.5 1187.5V1192.5M778.5 1187.5V1192.5M837.5 1187.5V1192.5M895.5 1187.5V1192.5M954.5 1187.5V1192.5M1013.5 1187.5V1192.5M1072.5 1187.5V1192.5M1131.5 1187.5V1192.5M1190.5 1187.5V1192.5M1249.5 1187.5V1192.5M1308.5 1187.5V1192.5M1366.5 1187.5V1192.5M1425.5 1187.5V1192.5M1484.5 1187.5V1192.5M1543.5 1187.5V1192.5M1602.5 1187.5V1192.5M1661.5 1187.5V1192.5M1720.5 1187.5V1192.5M1779.5 1187.5V1192.5M1837.5 1187.5V1192.5M1896.5 1187.5V1192.5M1955.5 1187.5V1192.5M2014.5 1187.5V1192.5M2073.5 1187.5V1192.5M2132.5 1187.5V1192.5M2191.5 1187.5V1192.5M2250.5 1187.5V1192.5M52.5 1187.5H57.5M52.5 956.5H57.5M52.5 725.5H57.5M52.5 494.5H57.5M52.5 263.5H57.5M52.5 32.5H57.5M2382.5 1187.5H2387.5M2382.5 1009.5H2387.5M2382.5 831.5H2387.5M2382.5 654.5H2387.5M2382.5 476.5H2387.5M2382.5 298.5H2387.5M2382.5 121.5H2387.5" fill="none" stroke="#000" stroke-width="1.11"/>
<path d="M52.5 1187.5H57.5M52.5 956.5H57.5M52.5 725.5H57.5M52.5 494.5H57.5M52.5 263.5H57.5M52.5 32.5H57.5M2382.5 1187.5H2387.5M2382.5 1009.5H2387.5M2382.5 831.5H2387.5M2382.5 654.5H2387.5M2382.5 476.5H2387.5M2382.5 298.5H2387.5M2382.5 121.5H2387.5" fill="none" stroke="#000" stroke-width="3" stroke-opacity="0.055"/>
<path d="M57 32.5H2383M57 1187.5H2383" fill="none" stroke="#000" stroke-opacity="0.099" stroke-width="3"/>
<path d="M57.5 32.5H2382.5V1187.5H57.5Z" fill="none" stroke="#000" stroke-width="1.11" stroke-linejoin="miter"/>
<path d="M57.5 32.5H2382.5V1187.5H57.5Z" fill="none" stroke="#000" stroke-width="1.11" stroke-linejoin="miter"/>
<g id="elevleg">
<rect x="2296.5" y="39.5" width="79" height="25" rx="2.8" ry="2.8" fill="#fff" fill-opacity="0.8" stroke="#ccc" stroke-opacity="0.8" stroke-width="1.39"/>
<path d="M2299.5 39.5H2372.5M2299.5 64.5H2372.5" fill="none" stroke="#ccc" stroke-width="3" stroke-opacity="0.156"/>
<path d="M2300 50H2330" stroke="#1f77b4" stroke-width="2.08" fill="none"/>
</g>
<text x="1204.031 1216.781 1226.156" y="1227">WRS</text>
<text transform="translate(0,1207.5) scale(1,1.03)" x="177.078 184.203 192.453" y="0" fill-opacity="0.985">YFB</text>
<text transform="translate(0,1207.5) scale(1,1.03)" x="236.078 243.203 251.828" y="0" fill-opacity="0.985">YYR</text>
<text x="290.875 299.75 308.625" y="1208" fill-opacity="0.985">BRW</text>
<text x="352 361.875 370.125" y="1208" fill-opacity="0.985">OTZ</text>
<text x="411 419.5 428.5" y="1208" fill-opacity="0.985">BET</text>
<text x="473.875 479.625 489.125" y="1208" fill-opacity="0.985">FAI</text>
<text x="527.875 536.375 545.875" y="1208" fill-opacity="0.985">ZAN</text>
<text x="585.875 594.375 603.625" y="1208" fill-opacity="0.985">ZBW</text>
<text transform="translate(0,1207.5) scale(1,1.03)" x="646 654.75 665.5" y="0" fill-opacity="0.985">CDB</text>
<text x="704.875 713.375 723.75" y="1208" fill-opacity="0.985">ZNY</text>
<text x="763.875 772.375 781.125" y="1208" fill-opacity="0.985">ZSU</text>
<text x="824.938 827.938 838.562" y="1208" fill-opacity="0.985">JNU</text>
<text x="880.875 889.375 900.125" y="1208" fill-opacity="0.985">ZDC</text>
<text x="939.875 948.375 959.5" y="1208" fill-opacity="0.985">ZOB</text>
<text x="998.078 1005.203 1018.953" y="1208" fill-opacity="0.985">YWG</text>
<text x="1057.875 1066.375 1075.875" y="1208" fill-opacity="0.985">ZAU</text>
<text x="1116.875 1125.375 1137.375" y="1208" fill-opacity="0.985">ZMP</text>
<text x="1178.875 1187.375 1191.375" y="1208" fill-opacity="0.985">ZJX</text>
<text x="1235.875 1244.375 1252.875" y="1208" fill-opacity="0.985">ZTL</text>
<text x="1292.875 1301.375 1313.375" y="1208" fill-opacity="0.985">ZMA</text>
<text x="1356 1364.5 1368.5" y="1208" fill-opacity="0.985">BIL</text>
<text x="1410.875 1419.375 1431.375" y="1208" fill-opacity="0.985">ZME</text>
<text x="1470.875 1479.375 1487.625" y="1208" fill-opacity="0.985">ZKC</text>
<text x="1529.875 1538.375 1547.125" y="1208" fill-opacity="0.985">ZSE</text>
<text x="1587.875 1596.375 1606.875" y="1208" fill-opacity="0.985">ZDV</text>
<text x="1647.875 1656.375 1664.125" y="1208" fill-opacity="0.985">ZLC</text>
<text x="1704.875 1713.375 1721.375" y="1208" fill-opacity="0.985">ZFW</text>
<text x="1763.875 1772.375 1783" y="1208" fill-opacity="0.985">ZHU</text>
<text x="1819.875 1830.875 1842.875" y="1208" fill-opacity="0.985">MMD</text>
<text x="1882.875 1891.375 1900.875" y="1208" fill-opacity="0.985">ZAB</text>
<text x="1940.875 1949.375 1960" y="1208" fill-opacity="0.985">ZHN</text>
<text x="1999.875 2008.375 2019" y="1208" fill-opacity="0.985">ZOA</text>
<text x="2059.875 2068.5 2076.375" y="1208" fill-opacity="0.985">ZLA</text>
<text x="2114.875 2125.875 2137.875" y="1208" fill-opacity="0.985">MMX</text>
<text x="2175.875 2187 2195.25" y="1208" fill-opacity="0.985">MPR</text>
<text x="2233.875 2244.875 2253.625" y="1208" fill-opacity="0.985">MSD</text>
<text transform="translate(20.861,640.375) rotate(-90)" x="0.5 7.25 16.125 22.875 32.75 37.5 47.625" y="0" fill-opacity="0.982">L1_C/No</text>
<text transform="translate(0,1192.5) scale(1,1.03)" x="29.938 37.688" y="0" fill-opacity="0.983">30</text>
<text x="29.938 37.688" y="962" fill-opacity="0.983">35</text>
<text transform="translate(0,730.5) scale(1,1.03)" x="30.062 37.812" y="0" fill-opacity="0.983">40</text>
<text transform="translate(0,499.5) scale(1,1.03)" x="30.062 37.812" y="0" fill-opacity="0.983">45</text>
<text transform="translate(0,268.5) scale(1,1.03)" x="29.938 37.688" y="0" fill-opacity="0.983">50</text>
<text x="29.938 37.688" y="38" fill-opacity="0.983">55</text>
<text transform="translate(0,23.5) scale(1,1.03)" x="1064 1073.375 1083.75 1092.375 1103.75 1109.625 1121.875 1132 1138.75 1143 1157.375 1167.5 1179 1183.25 1193.875 1204.375 1210 1220.625 1231.125 1236.75 1247.625 1258.125 1268.5 1280 1284.25 1291.125 1295.375 1308.25 1318.625 1331.625 1338.125 1342.625 1353 1363.625" y="0" font-size="16.67">L1_C/No: Mon 02/02/2026 - GEO: 135</text>
<text x="1204.031 1216.781 1226.156" y="1109" fill-opacity="0.983">WRE</text>
<text x="1234.938" y="1130" fill-opacity="0.958">1</text>
<text x="1234" y="1151" fill-opacity="0.958">2</text>
<text x="1233.938" y="1172" fill-opacity="0.958">3</text>
<text transform="translate(2425.676,629.375) rotate(-90)" x="0.5 8.25 16 24.75" y="0" fill="#1f77b4" fill-opacity="0.917">ELEV</text>
<text x="2391.875" y="1193" fill="#1f77b4" fill-opacity="0.973">0</text>
<text transform="translate(0,1014.5) scale(1,1.03)" x="2391.938 2399.812" y="0" fill="#1f77b4" fill-opacity="0.973">10</text>
<text transform="translate(0,836.5) scale(1,1.03)" x="2391 2399.75" y="0" fill="#1f77b4" fill-opacity="0.973">20</text>
<text transform="translate(0,659.5) scale(1,1.03)" x="2391.938 2399.688" y="0" fill="#1f77b4" fill-opacity="0.973">30</text>
<text transform="translate(0,481.5) scale(1,1.03)" x="2392.062 2399.812" y="0" fill="#1f77b4" fill-opacity="0.973">40</text>
<text transform="translate(0,303.5) scale(1,1.03)" x="2391.938 2399.688" y="0" fill="#1f77b4" fill-opacity="0.973">50</text>
<text x="2391 2399.625" y="126" fill="#1f77b4" fill-opacity="0.973">60</text>
<text x="2341 2348.5 2352.125 2360.625" y="56">elev</text>
</svg>
</body>
</html>
